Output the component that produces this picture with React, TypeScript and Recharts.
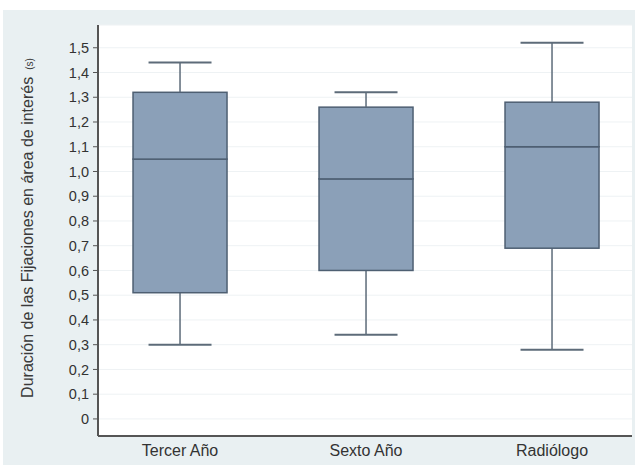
import { ComposedChart, Bar, XAxis, YAxis, CartesianGrid } from 'recharts';

const categories = ['Tercer Año', 'Sexto Año', 'Radiólogo'];
const minValues = [0.30, 0.34, 0.28];
const q1Values = [0.51, 0.60, 0.69];
const medianValues = [1.05, 0.97, 1.10];
const q3Values = [1.32, 1.26, 1.28];
const maxValues = [1.44, 1.32, 1.52];
const yTicks = [0, 0.1, 0.2, 0.3, 0.4, 0.5, 0.6, 0.7, 0.8, 0.9, 1.0, 1.1, 1.2, 1.3, 1.4, 1.5];

const boxData = categories.map((name, i) => ({
  pos: i + 1,
  name,
  base: minValues[i],
  lowWhisker: q1Values[i] - minValues[i],
  lowBox: medianValues[i] - q1Values[i],
  highBox: q3Values[i] - medianValues[i],
  highWhisker: maxValues[i] - q3Values[i],
}));

const FONT = '"Liberation Sans", Arial, sans-serif';
const BOX_FILL = '#8ba0b8';
const BOX_STROKE = '#4e5f72';
const WHISKER = '#5d6b79';

const BoxRect = (props: any) => {
  const { x, y, width, height } = props;
  return <rect x={x} y={y} width={width} height={height} fill={BOX_FILL} stroke={BOX_STROKE} strokeWidth={1.5} />;
};

const Whisker = (capAtTop: boolean) => (props: any) => {
  const { x, y, width, height } = props;
  const cx = x + width / 2;
  const capY = capAtTop ? y : y + height;
  const half = width * 0.335;
  return (
    <g>
      <line x1={cx} x2={cx} y1={y} y2={y + height} stroke={WHISKER} strokeWidth={1.5} />
      <line x1={cx - half} x2={cx + half} y1={capY} y2={capY} stroke={WHISKER} strokeWidth={2} />
    </g>
  );
};

const YLabel = () => (
  <text
    x={33}
    y={228}
    transform="rotate(-90 33 228)"
    textAnchor="middle"
    fontFamily={FONT}
    fontSize={16}
    fill="#3a3a3a"
  >
    <tspan>Duración de las Fijaciones en área de interés</tspan>
    <tspan fontSize={10} dx={7}>(s)</tspan>
  </text>
);

const App = () => {
  return (
    <div style={{ position: 'absolute', left: 0, top: 0, width: 639, height: 465, background: '#fff' }}>
      <div style={{ position: 'absolute', left: 3, top: 10, width: 632, height: 455, background: '#e9f0f2' }} />
      <div style={{ position: 'absolute', left: 0, top: 0 }}>
        <ComposedChart
          width={639}
          height={465}
          data={boxData}
          margin={{ top: 25, right: 7, left: 0, bottom: 0 }}
        >
          <CartesianGrid vertical={false} stroke="#eef2f4" fill="#ffffff" />
          <XAxis
            dataKey="pos"
            type="number"
            domain={[0.559, 3.43]}
            ticks={[1, 2, 3]}
            tickFormatter={(v) => categories[v - 1]}
            height={29}
            tickLine={false}
            axisLine={{ stroke: '#555', strokeWidth: 2 }}
            tick={{ fontFamily: FONT, fontSize: 16, fill: '#333' }}
            tickMargin={3}
            allowDataOverflow
          />
          <YAxis
            type="number"
            domain={[-0.069, 1.592]}
            ticks={yTicks}
            width={98}
            tickFormatter={(v) => (v === 0 ? '0' : v.toFixed(1).replace('.', ','))}
            axisLine={{ stroke: '#555', strokeWidth: 2 }}
            tickLine={{ stroke: '#555' }}
            tickSize={5}
            tickMargin={4}
            tick={{ fontFamily: FONT, fontSize: 14.5, fill: '#333' }}
            label={{ content: () => <YLabel /> }}
            allowDataOverflow
          />
          <Bar dataKey="base" stackId="a" fill="transparent" barSize={94} isAnimationActive={false} />
          <Bar dataKey="lowWhisker" stackId="a" barSize={94} shape={Whisker(false)} isAnimationActive={false} />
          <Bar dataKey="lowBox" stackId="a" barSize={94} shape={BoxRect} isAnimationActive={false} />
          <Bar dataKey="highBox" stackId="a" barSize={94} shape={BoxRect} isAnimationActive={false} />
          <Bar dataKey="highWhisker" stackId="a" barSize={94} shape={Whisker(true)} isAnimationActive={false} />
        </ComposedChart>
      </div>
    </div>
  );
};

export default App;
